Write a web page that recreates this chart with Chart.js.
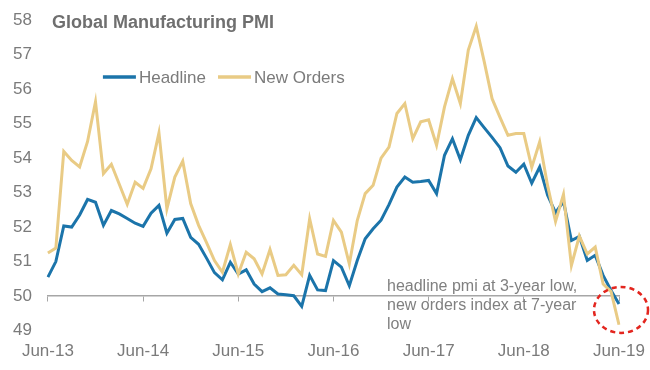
<!DOCTYPE html>
<html>
<head>
<meta charset="utf-8">
<script src="https://cdn.jsdelivr.net/npm/chart.js@4/dist/chart.umd.min.js"></script>
<style>
  html, body { margin: 0; padding: 0; background: #fff; }
  #wrap { width: 650px; height: 370px; }
</style>
</head>
<body>
<div id="wrap"><canvas id="pmiChart" width="650" height="370"></canvas></div>
<script>
// months Jun-13 .. Jun-19
const months = [];
const monthNames = ['Jan','Feb','Mar','Apr','May','Jun','Jul','Aug','Sep','Oct','Nov','Dec'];
for (let k = 0; k < 73; k++) {
  const m = (5 + k) % 12;
  const yr = 13 + Math.floor((5 + k) / 12);
  months.push(monthNames[m] + '-' + yr);
}

const headline = [
  50.55, 51.0, 52.03, 52.0, 52.35, 52.8, 52.72, 52.05, 52.48, 52.38, 52.25, 52.11,
  52.02, 52.4, 52.63, 51.82, 52.22, 52.25, 51.7, 51.5, 51.1, 50.68, 50.47, 50.98,
  50.64, 50.76, 50.35, 50.13, 50.24, 50.06, 50.04, 50.01, 49.7, 50.6, 50.18, 50.16,
  51.03, 50.84, 50.3, 51.03, 51.66, 51.95, 52.2, 52.65, 53.16, 53.45, 53.3, 53.32,
  53.35, 52.97, 54.08, 54.56, 53.95, 54.66, 55.17, 54.88, 54.6, 54.3, 53.77, 53.59,
  53.82, 53.27, 53.74, 52.92, 52.42, 52.74, 51.61, 51.73, 51.03, 51.18, 50.6, 50.16,
  49.77
];

const newOrders = [
  51.25, 51.39, 54.19, 53.93, 53.74, 54.48, 55.63, 53.55, 53.82, 53.24, 52.66, 53.3,
  53.12, 53.69, 54.73, 52.53, 53.45, 53.91, 52.68, 52.05, 51.55, 51.03, 50.69, 51.49,
  50.64, 51.27, 51.08, 50.64, 51.35, 50.6, 50.62, 50.89, 50.62, 52.24, 51.22, 51.15,
  52.19, 51.85, 50.93, 52.19, 52.97, 53.21, 54.0, 54.32, 55.29, 55.58, 54.56, 55.05,
  55.11, 54.37, 55.48, 56.3, 55.58, 57.13, 57.82, 56.8, 55.72, 55.18, 54.66, 54.71,
  54.71, 53.73, 54.47, 53.2, 52.16, 52.95, 50.89, 51.74, 51.22, 51.42, 50.35, 50.13,
  49.17
];

const yTicks = [49, 50, 51, 52, 53, 54, 55, 56, 57, 58];
const seriesNames = ['Headline', 'New Orders'];
const seriesColors = ['#1b74aa', '#e9cb85'];
const noteLines = ['headline pmi at 3-year low,', 'new orders index at 7-year', 'low'];
const titleText = 'Global Manufacturing PMI';

const grey = '#7b7b7b';
const axisFont = { family: '"Liberation Sans", Arial, sans-serif', size: 17 };

// show only the June labels / ticks
function juneOnly(val, idx) {
  return idx % 12 === 0 ? months[idx] : null;
}

// title, legend, note and red circle
const extras = {
  id: 'extras',
  afterDatasetsDraw(chart) {
    const ctx = chart.ctx;
    const area = chart.chartArea;
    const xs = chart.scales.x;
    const ys = chart.scales.y;
    ctx.save();

    // title
    ctx.font = 'bold 18px "Liberation Sans", Arial, sans-serif';
    ctx.fillStyle = '#6f6f6f';
    ctx.textBaseline = 'middle';
    ctx.textAlign = 'left';
    ctx.fillText(titleText, area.left + 4, area.top + 3);

    // legend
    ctx.font = '17px "Liberation Sans", Arial, sans-serif';
    const legY = area.top + 57;
    let lx = area.left + 55;
    seriesNames.forEach((name, i) => {
      ctx.strokeStyle = seriesColors[i];
      ctx.lineWidth = 3.5;
      ctx.beginPath();
      ctx.moveTo(lx, legY);
      ctx.lineTo(lx + 33, legY);
      ctx.stroke();
      ctx.fillStyle = grey;
      ctx.fillText(name, lx + 36, legY + 1);
      lx += 36 + ctx.measureText(name).width + 12;
    });

    // note
    ctx.font = '16px "Liberation Sans", Arial, sans-serif';
    ctx.fillStyle = '#808080';
    const nx = xs.getPixelForValue(43) - 2;
    noteLines.forEach((t, i) => {
      ctx.fillText(t, nx, ys.getPixelForValue(50) - 9 + i * 19);
    });

    // red dashed circle round the last points
    const last = months.length - 1;
    ctx.strokeStyle = '#e3261f';
    ctx.lineWidth = 2.5;
    ctx.setLineDash([5, 4]);
    ctx.beginPath();
    ctx.ellipse(xs.getPixelForValue(last) + 2, ys.getPixelForValue(49.6), 27, 23, 0, 0, Math.PI * 2);
    ctx.stroke();
    ctx.restore();
  }
};

const ctx = document.getElementById('pmiChart').getContext('2d');
new Chart(ctx, {
  type: 'line',
  data: {
    labels: months,
    datasets: [
      {
        label: seriesNames[0],
        data: headline,
        borderColor: seriesColors[0],
        borderWidth: 3,
        pointRadius: 0,
        tension: 0,
        fill: false,
        order: 1
      },
      {
        label: seriesNames[1],
        data: newOrders,
        borderColor: seriesColors[1],
        borderWidth: 3,
        pointRadius: 0,
        tension: 0,
        fill: false,
        order: 0
      }
    ]
  },
  options: {
    responsive: false,
    animation: false,
    devicePixelRatio: 1,
    layout: { padding: { left: 13, right: 31, top: 20, bottom: 8 } },
    plugins: {
      legend: { display: false },
      tooltip: { enabled: false }
    },
    scales: {
      x: {
        type: 'category',
        position: 'bottom',
        grid: { display: false, drawTicks: false },
        border: { display: false },
        ticks: {
          autoSkip: false,
          maxRotation: 0,
          padding: 11,
          color: grey,
          font: axisFont,
          callback: juneOnly
        },
        afterFit(axis) {
          // chart.js pads both sides of the labels; keep only one
          axis.height -= 11;
          axis.paddingLeft = 0;
          axis.paddingRight = 0;
        }
      },
      x2: {
        type: 'category',
        position: { y: 50 },
        grid: {
          drawOnChartArea: false,
          drawTicks: true,
          tickLength: 5,
          color: '#a6a6a6'
        },
        border: { display: true, color: '#a6a6a6', width: 1.5 },
        ticks: { display: false, autoSkip: false, callback: juneOnly }
      },
      y: {
        min: yTicks[0],
        max: yTicks[yTicks.length - 1],
        grid: { display: false, drawTicks: false },
        border: { display: false },
        afterBuildTicks(axis) {
          axis.ticks = yTicks.map(v => ({ value: v }));
        },
        ticks: {
          padding: 16,
          color: grey,
          font: axisFont
        },
        afterFit(axis) {
          axis.width -= 16;
          axis.paddingTop = 0;
          axis.paddingBottom = 0;
        }
      }
    }
  },
  plugins: [extras]
});
</script>
</body>
</html>
